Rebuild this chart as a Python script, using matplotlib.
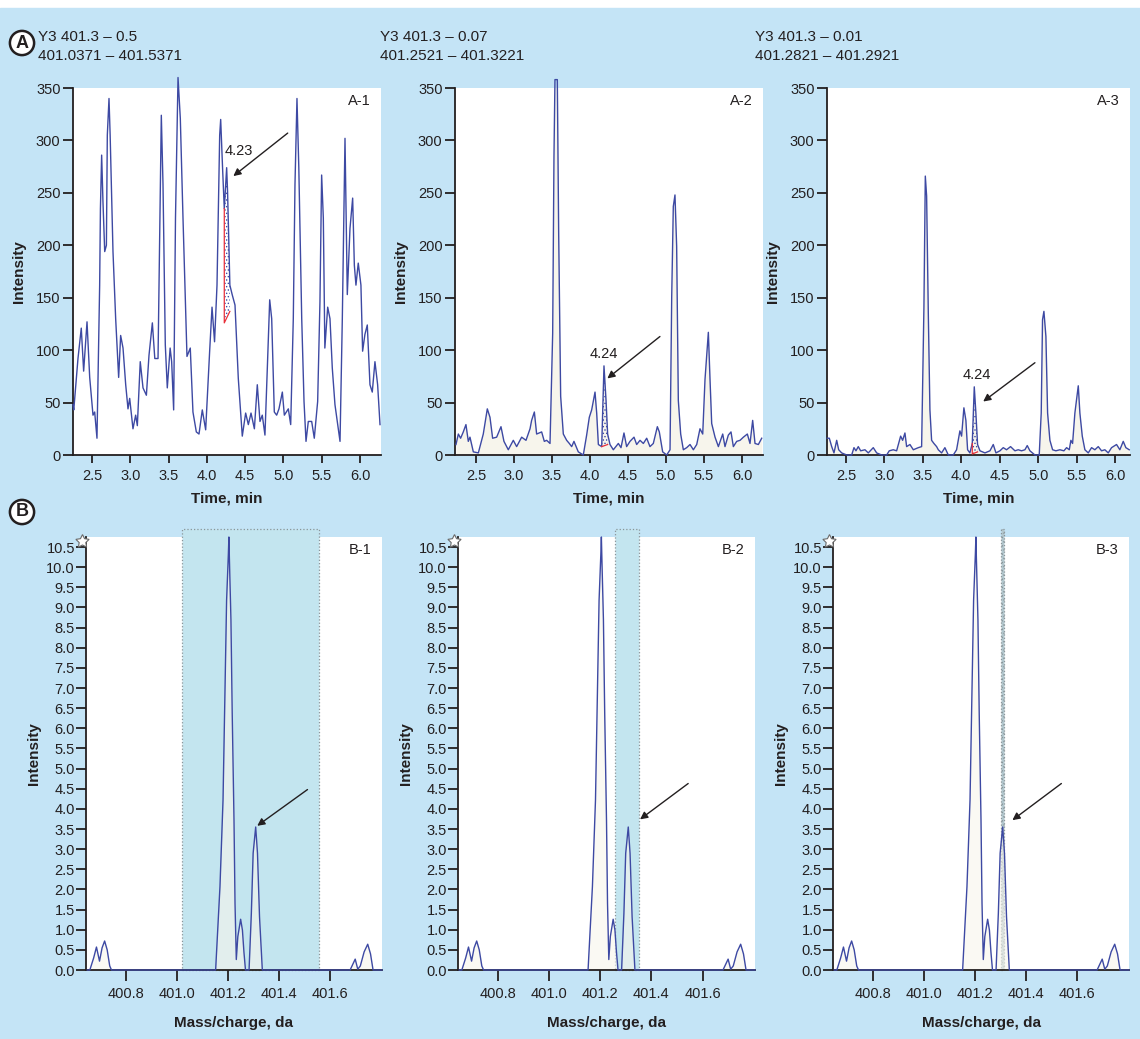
import matplotlib.pyplot as plt
from matplotlib.patches import Rectangle

plt.rcParams['font.family'] = ['Liberation Sans', 'DejaVu Sans']
plt.rcParams['hatch.linewidth'] = 0.6

# ---- chromatograms (time, min / intensity) ----
a1_time = [2.252, 2.262, 2.317, 2.360, 2.391, 2.435, 2.470, 2.513, 2.535, 2.565, 2.600, 2.610, 2.626, 2.643, 2.666,
           2.688, 2.700, 2.722, 2.737, 2.774, 2.809, 2.848, 2.874, 2.905, 2.940, 2.970, 2.992, 3.035, 3.070, 3.092,
           3.130, 3.166, 3.210, 3.244, 3.288, 3.320, 3.362, 3.405, 3.427, 3.457, 3.483, 3.520, 3.540, 3.566, 3.590,
           3.623, 3.653, 3.688, 3.740, 3.783, 3.818, 3.862, 3.897, 3.940, 3.984, 4.036, 4.067, 4.100, 4.132, 4.167,
           4.180, 4.205, 4.227, 4.240, 4.258, 4.270, 4.300, 4.330, 4.367, 4.410, 4.462, 4.506, 4.541, 4.576, 4.620,
           4.658, 4.693, 4.723, 4.758, 4.789, 4.820, 4.846, 4.880, 4.911, 4.941, 4.985, 5.011, 5.063, 5.094, 5.128,
           5.150, 5.176, 5.200, 5.238, 5.268, 5.294, 5.324, 5.368, 5.402, 5.446, 5.476, 5.498, 5.520, 5.540, 5.577,
           5.607, 5.637, 5.672, 5.738, 5.768, 5.803, 5.833, 5.868, 5.903, 5.925, 5.946, 5.976, 6.011, 6.033, 6.063,
           6.094, 6.129, 6.159, 6.194, 6.229, 6.260]
a1_int = [48, 43, 92, 121, 80, 127, 74, 38, 41, 16, 162, 235, 286, 242, 194,
          200, 305, 340, 305, 194, 130, 74, 114, 102, 67, 44, 54, 25, 38, 28,
          89, 64, 57, 95, 126, 92, 92, 324, 258, 105, 64, 102, 89, 43, 226,
          360, 321, 226, 94, 102, 41, 22, 20, 43, 24, 99, 141, 108, 162, 305,
          320, 273, 235, 251, 274, 251, 162, 153, 143, 73, 18, 40, 29, 40, 25,
          67, 32, 38, 19, 83, 148, 130, 41, 38, 44, 60, 38, 44, 29, 130,
          258, 340, 274, 130, 51, 13, 32, 32, 16, 51, 146, 267, 226, 102, 141,
          130, 83, 48, 13, 130, 302, 153, 216, 245, 181, 162, 183, 162, 99, 115,
          124, 67, 60, 89, 67, 29]

a2_time = [2.237, 2.268, 2.298, 2.333, 2.368, 2.399, 2.421, 2.465, 2.531, 2.596, 2.649, 2.684, 2.719, 2.772, 2.829,
           2.868, 2.925, 2.991, 3.035, 3.101, 3.158, 3.211, 3.232, 3.268, 3.298, 3.364, 3.399, 3.430, 3.474, 3.509,
           3.526, 3.539, 3.570, 3.588, 3.614, 3.649, 3.693, 3.728, 3.759, 3.789, 3.846, 3.912, 3.956, 3.991, 4.022,
           4.066, 4.088, 4.110, 4.154, 4.184, 4.211, 4.232, 4.263, 4.307, 4.373, 4.408, 4.447, 4.482, 4.526, 4.579,
           4.614, 4.658, 4.702, 4.746, 4.789, 4.833, 4.886, 4.912, 4.956, 5.009, 5.053, 5.075, 5.096, 5.118, 5.140,
           5.162, 5.193, 5.228, 5.272, 5.316, 5.360, 5.404, 5.447, 5.483, 5.513, 5.557, 5.579, 5.601, 5.645, 5.689,
           5.746, 5.776, 5.820, 5.855, 5.886, 5.930, 5.974, 6.018, 6.070, 6.105, 6.140, 6.171, 6.215, 6.259]
a2_int = [10, 20, 16, 22, 29, 13, 17, 3, 2, 20, 44, 36, 16, 17, 27,
          13, 5, 14, 8, 17, 14, 25, 33, 41, 20, 22, 13, 14, 11, 116,
          284, 358, 358, 211, 56, 20, 14, 11, 8, 13, 3, 0, 19, 36, 43,
          60, 40, 10, 8, 85, 52, 20, 10, 5, 11, 7, 21, 8, 13, 17,
          10, 14, 11, 16, 8, 11, 27, 22, 3, 0, 5, 151, 237, 248, 199,
          52, 20, 5, 7, 10, 5, 10, 25, 20, 72, 117, 72, 30, 17, 8,
          20, 8, 19, 22, 8, 13, 14, 17, 20, 11, 33, 11, 10, 16]

a3_time = [2.257, 2.283, 2.314, 2.344, 2.379, 2.405, 2.444, 2.509, 2.574, 2.604, 2.630, 2.660, 2.691, 2.747, 2.790,
           2.855, 2.899, 2.964, 3.029, 3.063, 3.115, 3.159, 3.211, 3.237, 3.267, 3.289, 3.332, 3.376, 3.441, 3.484,
           3.514, 3.532, 3.549, 3.571, 3.592, 3.614, 3.644, 3.679, 3.701, 3.744, 3.787, 3.831, 3.896, 3.939, 3.982,
           4.004, 4.034, 4.060, 4.082, 4.112, 4.143, 4.169, 4.190, 4.212, 4.243, 4.308, 4.373, 4.416, 4.451, 4.503,
           4.546, 4.589, 4.641, 4.698, 4.741, 4.784, 4.828, 4.858, 4.893, 4.958, 5.014, 5.040, 5.057, 5.075, 5.101,
           5.123, 5.153, 5.188, 5.231, 5.283, 5.335, 5.370, 5.405, 5.426, 5.448, 5.478, 5.522, 5.543, 5.574, 5.608,
           5.652, 5.695, 5.738, 5.782, 5.825, 5.868, 5.912, 5.955, 6.020, 6.063, 6.107, 6.141, 6.185]
a3_int = [16, 16, 8, 2, 14, 5, 2, 0, 0, 7, 4, 8, 4, 5, 2,
          7, 2, 0, 0, 4, 5, 4, 18, 14, 21, 8, 10, 5, 7, 8,
          141, 266, 247, 135, 43, 14, 11, 8, 5, 2, 7, 0, 0, 5, 23,
          18, 45, 33, 5, 2, 11, 65, 40, 10, 4, 2, 4, 10, 2, 4,
          7, 5, 8, 4, 5, 4, 5, 9, 4, 0, 0, 40, 129, 137, 113,
          40, 14, 5, 4, 5, 4, 7, 5, 14, 11, 40, 66, 40, 18, 5,
          2, 7, 5, 8, 4, 5, 2, 7, 10, 5, 13, 7, 5]

a_names = ['A-1', 'A-2', 'A-3']
a_peak_labels = ['4.23', '4.24', '4.24']
a_peak_label_pos = [(4.237, 283), (4.184, 90), (4.204, 70)]
# integrated window: (t start, t end, baseline start, baseline end)
a_integration = [(4.227, 4.300, 126, 137), (4.154, 4.232, 8, 10), (4.143, 4.212, 1, 3)]
a_arrows = [((5.055, 307), (4.345, 266)), ((4.92, 113), (4.228, 73)), ((4.958, 88), (4.285, 51))]
a_xlim = [(2.252, 6.273), (2.224, 6.276), (2.253, 6.195)]
headers = [('Y3 401.3 \u2013 0.5', '401.0371 \u2013 401.5371'),
           ('Y3 401.3 \u2013 0.07', '401.2521 \u2013 401.3221'),
           ('Y3 401.3 \u2013 0.01', '401.2821 \u2013 401.2921')]

# ---- mass spectrum (m/z / intensity) ----
ms_mz = [400.650, 400.660, 400.675, 400.686, 400.698, 400.708, 400.718, 400.728, 400.738, 400.745,
         401.153, 401.170, 401.182, 401.189, 401.196, 401.203, 401.205, 401.207, 401.213, 401.218,
         401.225, 401.229, 401.234, 401.240, 401.251, 401.258, 401.264, 401.270,
         401.284, 401.293, 401.300, 401.310, 401.317, 401.325, 401.336,
         401.680, 401.700, 401.710, 401.720, 401.735, 401.749, 401.760, 401.770, 401.805]
ms_int = [0, 0, 0.30, 0.57, 0.22, 0.55, 0.72, 0.50, 0.10, 0,
          0, 2.07, 4.22, 6.70, 9.18, 10.34, 10.75, 10.20, 8.70, 6.37,
          3.72, 1.65, 0.26, 0.83, 1.26, 0.99, 0.44, 0,
          0, 1.41, 2.90, 3.55, 2.90, 1.32, 0,
          0, 0.27, 0.02, 0.10, 0.45, 0.64, 0.40, 0, 0]
b_names = ['B-1', 'B-2', 'B-3']
b_windows = [(401.02, 401.56), (401.259, 401.352), (401.302, 401.314)]
b_arrows = [((401.513, 4.48), (401.316, 3.58)), ((401.544, 4.63), (401.356, 3.74)), ((401.54, 4.63), (401.348, 3.72))]

'''
~~~~~~~~~~~~~~~~~~~~~~~~~~~~~~~~~~~~~~~~~~~~~~~~~~~~~~~~~~~~~~~~~~~~~~~~~~~~~~~~~~~~~~
'''
W, H = 1140, 1039
bg = '#c4e4f6'
ink = '#231f20'
blue = '#3d49a3'
fill_col = '#f7f5ec'

fig = plt.figure(figsize=(W / 100, H / 100), dpi=100)
fig.patch.set_facecolor('white')
fig.add_artist(Rectangle((0, 0), 1, 1 - 8 / H, transform=fig.transFigure, color=bg, zorder=-10))


def px_box(left, right, top, bottom):
    return [left / W, 1 - bottom / H, (right - left) / W, (bottom - top) / H]


def style_axes(ax):
    ax.set_facecolor('white')
    ax.spines['top'].set_visible(False)
    ax.spines['right'].set_visible(False)
    for s in ['left', 'bottom']:
        ax.spines[s].set_linewidth(1.3)
        ax.spines[s].set_color(ink)
    ax.tick_params(axis='y', length=7, width=1.3, pad=2, labelsize=10.5, colors=ink)
    ax.tick_params(axis='x', length=6, width=1.3, pad=4, labelsize=10.5, colors=ink)


a_boxes = [(73, 381), (455, 763), (827, 1130)]
a_data = [(a1_time, a1_int), (a2_time, a2_int), (a3_time, a3_int)]
header_x = [38, 380, 755]

for i in range(3):
    ax = fig.add_axes(px_box(a_boxes[i][0], a_boxes[i][1], 88, 455))
    style_axes(ax)
    t, y = a_data[i]
    if i > 0:
        ax.fill_between(t, y, 0, color=fill_col, lw=0, zorder=1)
    ax.plot(t, y, color=blue, lw=1.0, zorder=3, clip_on=False)

    t0, t1, b0, b1 = a_integration[i]
    pts = [(tt, yy) for tt, yy in zip(t, y) if t0 <= tt <= t1]
    poly_t = [p[0] for p in pts] + [t1, t0]
    poly_y = [p[1] for p in pts] + [b1, b0]
    ax.fill(poly_t, poly_y, facecolor='none', edgecolor=blue, hatch='.....', lw=0, zorder=2)
    ax.plot([t0, t0, t1], [pts[0][1], b0, b1], color='#e8303a', lw=0.9, zorder=4)

    ax.text(a_peak_label_pos[i][0], a_peak_label_pos[i][1], a_peak_labels[i], fontsize=10.5,
            color=ink, ha='center' if i else 'left', va='bottom')
    ax.annotate('', xy=a_arrows[i][1], xytext=a_arrows[i][0],
                arrowprops=dict(arrowstyle='-|>', color=ink, lw=1.0, mutation_scale=11, shrinkA=0, shrinkB=0))
    ax.text(0.965, 0.985, a_names[i], transform=ax.transAxes, ha='right', va='top', fontsize=10.5, color=ink)

    ax.set_xlim(a_xlim[i])
    ax.set_ylim(0, 350)
    ax.set_yticks(range(0, 351, 50))
    ax.set_xticks([2.5, 3.0, 3.5, 4.0, 4.5, 5.0, 5.5, 6.0])
    ax.set_xticklabels(['2.5', '3.0', '3.5', '4.0', '4.5', '5.0', '5.5', '6.0'])
    ax.set_xlabel('Time, min', fontsize=11, fontweight='bold', color=ink, labelpad=6)
    ax.set_ylabel('Intensity', fontsize=11, fontweight='bold', color=ink, labelpad=7)

    fig.text(header_x[i] / W, 1 - 37 / H, headers[i][0], fontsize=11, color=ink, va='center')
    fig.text(header_x[i] / W, 1 - 56 / H, headers[i][1], fontsize=11, color=ink, va='center')

b_boxes = [(86, 382), (458, 755), (833, 1129)]
b_yticks = [k * 0.5 for k in range(22)]
for i in range(3):
    ax = fig.add_axes(px_box(b_boxes[i][0], b_boxes[i][1], 537, 970))
    style_axes(ax)
    w0, w1 = b_windows[i]
    face = '#c3e5ef' if i < 2 else '#b3c8cf'
    ax.add_patch(Rectangle((w0, 0), w1 - w0, 10.95, facecolor=face, edgecolor='#8a9599', ls=':',
                           lw=0.9, clip_on=False, zorder=1, hatch='....' if i == 2 else None))
    ax.fill_between(ms_mz, ms_int, 0, color=fill_col, lw=0, zorder=1.5, alpha=0.6)
    ax.plot(ms_mz, ms_int, color=blue, lw=1.0, zorder=3, clip_on=False)
    ax.annotate('', xy=b_arrows[i][1], xytext=b_arrows[i][0],
                arrowprops=dict(arrowstyle='-|>', color=ink, lw=1.0, mutation_scale=11, shrinkA=0, shrinkB=0))
    ax.text(0.965, 0.985, b_names[i], transform=ax.transAxes, ha='right', va='top', fontsize=10.5, color=ink)
    # small star icon at the top of the intensity axis
    ax.plot(-0.012, 0.99, marker=(5, 1, 0), ms=10, mfc='white', mec='#6b6b6b', mew=0.8,
            transform=ax.transAxes, clip_on=False, zorder=6)

    ax.set_xlim(400.645, 401.805)
    ax.set_ylim(0, 10.75)
    ax.set_yticks(b_yticks)
    ax.set_yticklabels(['%.1f' % v for v in b_yticks])
    ax.tick_params(axis='y', length=7, labelsize=10.5, pad=1)
    ax.tick_params(axis='x', length=8, pad=4)
    ax.set_xticks([400.8, 401.0, 401.2, 401.4, 401.6])
    ax.set_xticklabels(['400.8', '401.0', '401.2', '401.4', '401.6'])
    ax.set_xlabel('Mass/charge, da', fontsize=11, fontweight='bold', color=ink, labelpad=11)
    ax.set_ylabel('Intensity', fontsize=11, fontweight='bold', color=ink, labelpad=4)

# panel letters
for letter, (x, y) in [('A', (22, 43)), ('B', (22, 512))]:
    fig.text(x / W, 1 - y / H, letter, fontsize=13, fontweight='bold', color=ink, ha='center', va='center',
             bbox=dict(boxstyle='circle,pad=0.2', facecolor='white', edgecolor=ink, lw=1.8))

plt.savefig('out.png', dpi=100, facecolor=fig.get_facecolor())
